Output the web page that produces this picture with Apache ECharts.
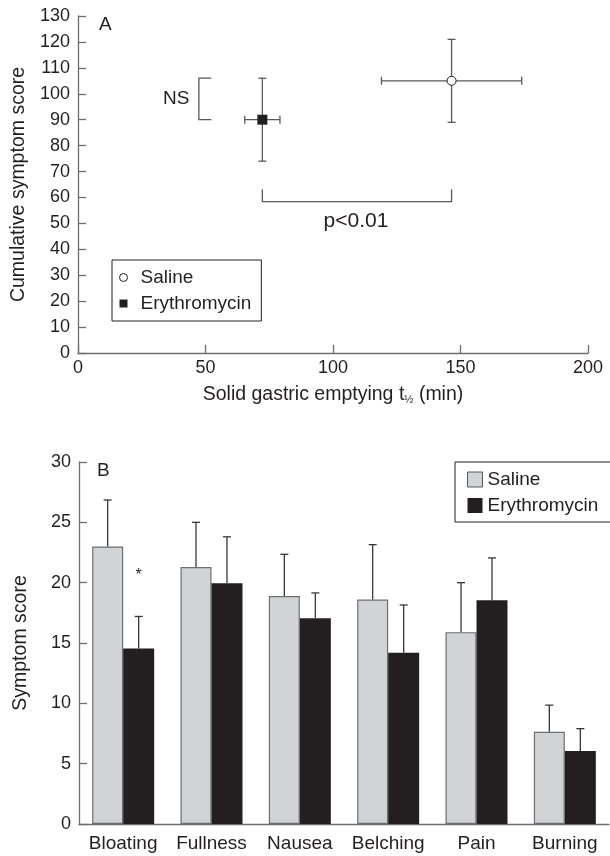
<!DOCTYPE html>
<html><head><meta charset="utf-8">
<script src="https://cdn.jsdelivr.net/npm/echarts@6/dist/echarts.min.js"></script>
<style>html,body{margin:0;padding:0;background:#fff}#chart{width:610px;height:856px}</style>
</head><body><div id="chart"></div>
<script>
// ---- Panel A data ----
const groups = ['Saline', 'Erythromycin'];
const emptyingT12 = [146.5, 72.3];
const emptyingErr = [27.5, 6.9];
const cumulativeScore = [105, 90];
const cumulativeErr = [16, 16];
const nsBracket = [[52.3, 106], [47.4, 106], [47.4, 90], [52.3, 90]];
const pBracket = [[72.3, 63.2], [72.3, 58.4], [146.5, 58.4], [146.5, 63.2]];
const nsLabel = ['NS', 38.5, 98];
const pLabel = ['p<0.01', 109, 51];
const xTicksA = [0, 50, 100, 150, 200];

// ---- Panel B data ----
const symptoms = ['Bloating', 'Fullness', 'Nausea', 'Belching', 'Pain', 'Burning'];
const salineScore = [23.0, 21.3, 18.9, 18.6, 15.9, 7.65];
const salineSE = [3.85, 3.7, 3.45, 4.55, 4.1, 2.2];
const erythroScore = [14.55, 19.95, 17.05, 14.2, 18.55, 6.05];
const erythroSE = [2.65, 3.85, 2.1, 3.95, 3.5, 1.85];
const starLabel = ['*', 0, 20.6];

const FONT = 'Liberation Sans';
const TXT = '#231f20';
const AXIS = '#6d6e71';
const BAR_W = 31;
const TICK_FS = 18;
const TITLE_FS = 19.5;
const SQUARE = 'path://M0,0L10,0L10,10L0,10Z';

const axisCommon = {
  axisLine: { show: true, lineStyle: { color: AXIS, width: 1.3 } },
  axisTick: { show: true, inside: true, length: 8, lineStyle: { color: AXIS, width: 1.3 } },
  splitLine: { show: false },
  axisLabel: { color: TXT, fontSize: TICK_FS, fontFamily: FONT },
  nameTextStyle: { color: TXT, fontSize: TITLE_FS, fontFamily: FONT }
};

const errA = groups.map((g, i) => [emptyingT12[i], cumulativeScore[i], emptyingErr[i], cumulativeErr[i]]);
const errB = [];
symptoms.forEach((s, i) => {
  errB.push([i, salineScore[i], salineSE[i], 0]);
  errB.push([i, erythroScore[i], erythroSE[i], 1]);
});

function ln(x1, y1, x2, y2, color, w) {
  return { type: 'line', shape: { x1, y1, x2, y2 }, style: { stroke: color, lineWidth: w } };
}

const option = {
  animation: false,
  backgroundColor: '#fff',
  textStyle: { fontFamily: FONT, color: TXT },
  grid: [
    { left: 78, right: 22, top: 16, bottom: 503 },
    { left: 79, right: 1, top: 462, bottom: 32 }
  ],
  xAxis: [
    Object.assign({}, axisCommon, {
      gridIndex: 0, type: 'value', min: xTicksA[0], max: xTicksA[xTicksA.length - 1], interval: 50,
      name: 'Solid gastric emptying t{s|½} (min)', nameLocation: 'middle', nameGap: 32,
      nameTextStyle: { color: TXT, fontSize: TITLE_FS, fontFamily: FONT,
        rich: { s: { fontSize: 11, fontFamily: FONT, color: TXT, padding: [9, 0, 0, 0] } } },
      axisLabel: { color: TXT, fontSize: TICK_FS, fontFamily: FONT, margin: 6 }
    }),
    Object.assign({}, axisCommon, {
      gridIndex: 1, type: 'category', data: symptoms,
      axisTick: { show: false },
      axisLabel: { color: TXT, fontSize: 19, fontFamily: FONT, margin: 10, interval: 0 }
    })
  ],
  yAxis: [
    Object.assign({}, axisCommon, {
      gridIndex: 0, type: 'value', min: 0, max: 130, interval: 10,
      name: 'Cumulative symptom score', nameLocation: 'middle', nameGap: 48,
      axisLabel: { color: TXT, fontSize: TICK_FS, fontFamily: FONT, margin: 8 }
    }),
    Object.assign({}, axisCommon, {
      gridIndex: 1, type: 'value', min: 0, max: 30, interval: 5,
      name: 'Symptom score', nameLocation: 'middle', nameGap: 48,
      axisLabel: { color: TXT, fontSize: TICK_FS, fontFamily: FONT, margin: 8 }
    })
  ],
  legend: [
    {
      left: 112, top: 260, orient: 'vertical', selectedMode: false,
      itemWidth: 24, itemHeight: 8, itemGap: 7, symbolKeepAspect: true,
      padding: [8, 10, 8, 7], borderColor: TXT, borderWidth: 1,
      textStyle: { fontSize: 19, color: TXT, fontFamily: FONT },
      data: [
        { name: groups[0], icon: 'circle', itemStyle: { color: '#fff', borderColor: TXT, borderWidth: 1 } },
        { name: groups[1], icon: SQUARE, itemStyle: { color: TXT, borderWidth: 0 } }
      ]
    },
    {
      left: 455, top: 462, orient: 'vertical', selectedMode: false,
      itemWidth: 15, itemHeight: 15, itemGap: 7,
      padding: [8, 30, 7, 12], borderColor: TXT, borderWidth: 1,
      textStyle: { fontSize: 19, color: TXT, fontFamily: FONT },
      data: [
        { name: groups[0], icon: 'rect', itemStyle: { color: '#d1d3d4', borderColor: '#58595b', borderWidth: 1 } },
        { name: groups[1], icon: 'rect', itemStyle: { color: TXT, borderWidth: 0 } }
      ]
    }
  ],
  graphic: [
    { type: 'text', left: 99, top: 15, style: { text: 'A', fontSize: 19, fontFamily: FONT, fill: TXT } },
    { type: 'text', left: 97, top: 461, style: { text: 'B', fontSize: 19, fontFamily: FONT, fill: TXT } }
  ],
  series: [
    // Panel A error bars
    {
      type: 'custom', xAxisIndex: 0, yAxisIndex: 0, z: 3, silent: true,
      data: errA, encode: { x: 0, y: 1 },
      renderItem: function (params, api) {
        const x = api.value(0), y = api.value(1), xe = api.value(2), ye = api.value(3);
        const c = api.coord([x, y]);
        const l = api.coord([x - xe, y]), r = api.coord([x + xe, y]);
        const t = api.coord([x, y + ye]), b = api.coord([x, y - ye]);
        const col = '#58595b', w = 1.3, h = 4;
        return { type: 'group', children: [
          ln(l[0], c[1], r[0], c[1], col, w),
          ln(l[0], c[1] - h, l[0], c[1] + h, col, w),
          ln(r[0], c[1] - h, r[0], c[1] + h, col, w),
          ln(c[0], t[1], c[0], b[1], col, w),
          ln(c[0] - h, t[1], c[0] + h, t[1], col, w),
          ln(c[0] - h, b[1], c[0] + h, b[1], col, w)
        ] };
      }
    },
    {
      type: 'scatter', name: groups[0], xAxisIndex: 0, yAxisIndex: 0, z: 5,
      data: [[emptyingT12[0], cumulativeScore[0]]],
      symbol: 'circle', symbolSize: 9,
      itemStyle: { color: '#fff', borderColor: TXT, borderWidth: 1, opacity: 1 }
    },
    {
      type: 'scatter', name: groups[1], xAxisIndex: 0, yAxisIndex: 0, z: 5,
      data: [[emptyingT12[1], cumulativeScore[1]]],
      symbol: 'rect', symbolSize: 10,
      itemStyle: { color: TXT, opacity: 1 }
    },
    // Panel A annotations
    {
      type: 'custom', xAxisIndex: 0, yAxisIndex: 0, z: 3, silent: true,
      data: [[0], [1]],
      renderItem: function (params, api) {
        const idx = api.value(0);
        const pts = (idx === 0 ? nsBracket : pBracket).map(p => api.coord(p));
        const lab = idx === 0 ? nsLabel : pLabel;
        const lp = api.coord([lab[1], lab[2]]);
        return { type: 'group', children: [
          { type: 'polyline', shape: { points: pts }, style: { stroke: '#58595b', lineWidth: 1.3, fill: null } },
          { type: 'text', x: lp[0], y: lp[1], style: { text: lab[0], fontSize: idx === 0 ? 19 : 21, fontFamily: FONT, fill: TXT, align: 'center', verticalAlign: 'middle' } }
        ] };
      }
    },
    // Panel B bars
    {
      type: 'bar', name: groups[0], xAxisIndex: 1, yAxisIndex: 1, data: salineScore,
      barWidth: BAR_W, barGap: '0%',
      itemStyle: { color: '#d1d3d4', borderColor: '#6d6e71', borderWidth: 1.2 }
    },
    {
      type: 'bar', name: groups[1], xAxisIndex: 1, yAxisIndex: 1, data: erythroScore,
      barWidth: BAR_W, barGap: '0%',
      itemStyle: { color: TXT }
    },
    // Panel B error bars
    {
      type: 'custom', xAxisIndex: 1, yAxisIndex: 1, z: 4, silent: true,
      data: errB, encode: { x: 0, y: 1 },
      renderItem: function (params, api) {
        const i = api.value(0), v = api.value(1), e = api.value(2), s = api.value(3);
        const off = (s === 0 ? -1 : 1) * BAR_W / 2;
        const base = api.coord([i, v]), top = api.coord([i, v + e]);
        const x = base[0] + off;
        const col = '#3a3637', w = 1.3;
        return { type: 'group', children: [
          ln(x, base[1], x, top[1], col, w),
          ln(x - 4, top[1], x + 4, top[1], col, w)
        ] };
      }
    },
    {
      type: 'custom', xAxisIndex: 1, yAxisIndex: 1, z: 4, silent: true,
      data: [[starLabel[1], starLabel[2]]], encode: { x: 0, y: 1 },
      renderItem: function (params, api) {
        const p = api.coord([api.value(0), api.value(1)]);
        return { type: 'text', x: p[0] + BAR_W / 2, y: p[1], style: { text: starLabel[0], fontSize: 16, fontFamily: FONT, fill: TXT, align: 'center', verticalAlign: 'middle' } };
      }
    }
  ]
};

const chart = echarts.init(document.getElementById('chart'), null, { renderer: 'canvas' });
chart.setOption(option);
</script>
</body></html>
